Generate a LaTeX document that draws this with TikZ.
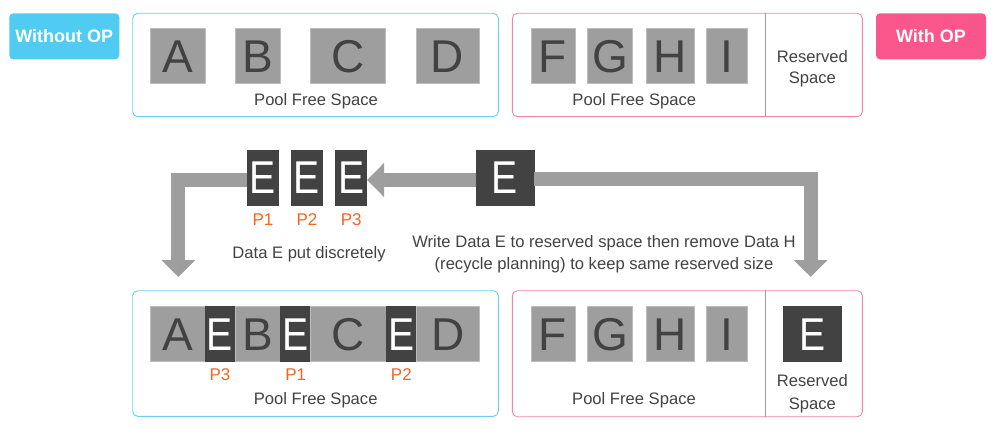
\documentclass[tikz,border=0pt]{standalone}
\usepackage{fontspec}
\setmainfont{Liberation Sans}
\usetikzlibrary{arrows.meta}
\definecolor{blueedge}{HTML}{6CCFF3}
\definecolor{bluefill}{HTML}{50CBF1}
\definecolor{pinkedge}{HTML}{F585A9}
\definecolor{pinkfill}{HTML}{F9578B}
\definecolor{boxgray}{HTML}{9E9E9E}
\definecolor{boxedge}{HTML}{BDBDBD}
\definecolor{lettergray}{HTML}{424242}
\definecolor{darkbox}{HTML}{424242}
\definecolor{textgray}{HTML}{424242}
\definecolor{plabel}{HTML}{F26522}
\definecolor{arrowgray}{HTML}{9E9E9E}
\newcommand{\narrowE}{\scalebox{0.85}[1]{E}}
\begin{document}
\begin{tikzpicture}[x=1pt,y=-1pt,
  gbox/.style={fill=boxgray, draw=boxedge, line width=0.6pt, text=lettergray,
    font=\fontsize{46}{50}\selectfont, text height=33pt, text depth=0pt,
    inner sep=0pt, minimum height=55pt},
  dbox/.style={gbox, fill=darkbox, draw=darkbox, text=white},
  lbl/.style={inner sep=0pt, font=\fontsize{16.6}{19}\selectfont, text=textgray,
    text height=11.9pt, text depth=0pt},
  plbl/.style={lbl, font=\fontsize{17}{19}\selectfont, text height=12.2pt, text=plabel},
  tagbox/.style={rounded corners=4pt, inner sep=0pt, minimum width=110pt,
    minimum height=46pt, text=white, font=\bfseries\fontsize{18}{21}\selectfont,
    text height=13pt, text depth=0pt},
  poolb/.style={draw=blueedge, rounded corners=5pt, line width=0.9pt,
    minimum width=365.6pt, inner sep=0pt},
  poolp/.style={draw=pinkedge, rounded corners=5pt, line width=0.9pt,
    minimum width=350pt, inner sep=0pt},
  divider/.style={draw=boxgray, line width=0.8pt},
  bigarrow/.style={draw=arrowgray, line width=14pt, line join=miter,
    -{Triangle[width=33pt,length=17pt]}}
]
\useasboundingbox (0,0) rectangle (1000,430);

% tags
\node[tagbox, fill=bluefill] (without) at (64.3,36.3) {Without OP};
\node[tagbox, fill=pinkfill] (with) at (931,36.3) {With OP};

% pool frames
\node[poolb, minimum height=103.4pt] (tl) at (315.5,65) {};
\node[poolp, minimum height=103.4pt] (tr) at (687.3,65) {};
\node[poolb, minimum height=125.6pt] (bl) at (315.5,353.5) {};
\node[poolp, minimum height=126pt] (br) at (687.3,353.7) {};
\draw[divider] (765.7,0 |- tr.north) -- (765.7,0 |- tr.south);
\draw[divider] (765.7,0 |- br.north) -- (765.7,0 |- br.south);

% top-left blocks
\node[gbox, minimum width=55pt] (A) at (177.5,55.8) {A};
\node[gbox, minimum width=44.7pt] (B) at (257.7,55.8) {B};
\node[gbox, minimum width=75pt] (C) at (348.2,55.8) {C};
\node[gbox, minimum width=63pt] (D) at (447.5,55.8) {D};
\node[lbl] (tlt) at (316,100) {Pool Free Space};

% top-right blocks
\node[gbox, minimum width=44pt] (F) at (553,55.8) {F};
\node[gbox, minimum width=44.6pt] (G) at (610,55.8) {G};
\node[gbox, minimum width=48.3pt] (H) at (670.2,55.8) {H};
\node[gbox, minimum width=40.3pt] (I) at (726.8,55.8) {I};
\node[lbl] (trt) at (634.3,100) {Pool Free Space};
\node[lbl] (trr1) at (812.3,56.7) {Reserved};
\node[lbl] (trr2) at (812.3,77.7) {Space};

% middle E blocks
\node[dbox, minimum width=30.6pt] (E1) at (263,177.5) {\narrowE};
\node[dbox, minimum width=30.6pt] (E2) at (307,177.5) {\narrowE};
\node[dbox, minimum width=31pt] (E3) at (351.2,177.5) {\narrowE};
\node[dbox, minimum width=58pt] (bigE) at (505,177.5) {\narrowE};
\node[plbl] (mp1) at (263,219) {P1};
\node[plbl] (mp2) at (307,219) {P2};
\node[plbl] (mp3) at (351.2,219) {P3};
\node[lbl] (disc) at (309,252.7) {Data E put discretely};
\node[lbl] (w1) at (604,241.7) {Write Data E to reserved space then remove Data H};
\node[lbl] (w2) at (604,263.3) {(recycle planning) to keep same reserved size};

% arrows
\coordinate (ltip) at (178.3,277);
\coordinate (rtip) at (810.7,277);
\draw[bigarrow] ([yshift=-2.5pt]bigE.west) -- ([yshift=-2.5pt]E3.east);
\draw[bigarrow] ([yshift=-2.5pt]E1.west) -| (ltip);
\draw[bigarrow] ([yshift=-1.5pt]bigE.east) -| (rtip);

% bottom-left row
\node[gbox, minimum width=55pt, minimum height=55.7pt] (bA) at (177.5,333.8) {A};
\node[dbox, minimum width=30pt, minimum height=55.7pt] (bE3) at (220,333.8) {\narrowE};
\node[gbox, minimum width=45.7pt, minimum height=55.7pt] (bB) at (257.85,333.8) {B};
\node[dbox, minimum width=30pt, minimum height=55.7pt] (bE1) at (295.7,333.8) {\narrowE};
\node[gbox, minimum width=75.3pt, minimum height=55.7pt] (bC) at (348.35,333.8) {C};
\node[dbox, minimum width=30.7pt, minimum height=55.7pt] (bE2) at (401.35,333.8) {\narrowE};
\node[gbox, minimum width=62.6pt, minimum height=55.7pt] (bD) at (448,333.8) {D};
\node[plbl] (bp3) at (220,374.3) {P3};
\node[plbl] (bp1) at (295.7,374.3) {P1};
\node[plbl] (bp2) at (401.35,374.3) {P2};
\node[lbl] (blt) at (315.7,399) {Pool Free Space};

% bottom-right blocks
\node[gbox, minimum width=44pt] (bF) at (553,333.5) {F};
\node[gbox, minimum width=44.6pt] (bG) at (610,333.5) {G};
\node[gbox, minimum width=48.3pt] (bH) at (670.2,333.5) {H};
\node[gbox, minimum width=40.3pt] (bI) at (726.8,333.5) {I};
\node[dbox, minimum width=58.4pt] (rE) at (812.5,333.5) {\narrowE};
\node[lbl] (brt) at (634,398.3) {Pool Free Space};
\node[lbl] (brr1) at (812.3,380.7) {Reserved};
\node[lbl] (brr2) at (812.3,403.3) {Space};
\end{tikzpicture}
\end{document}
